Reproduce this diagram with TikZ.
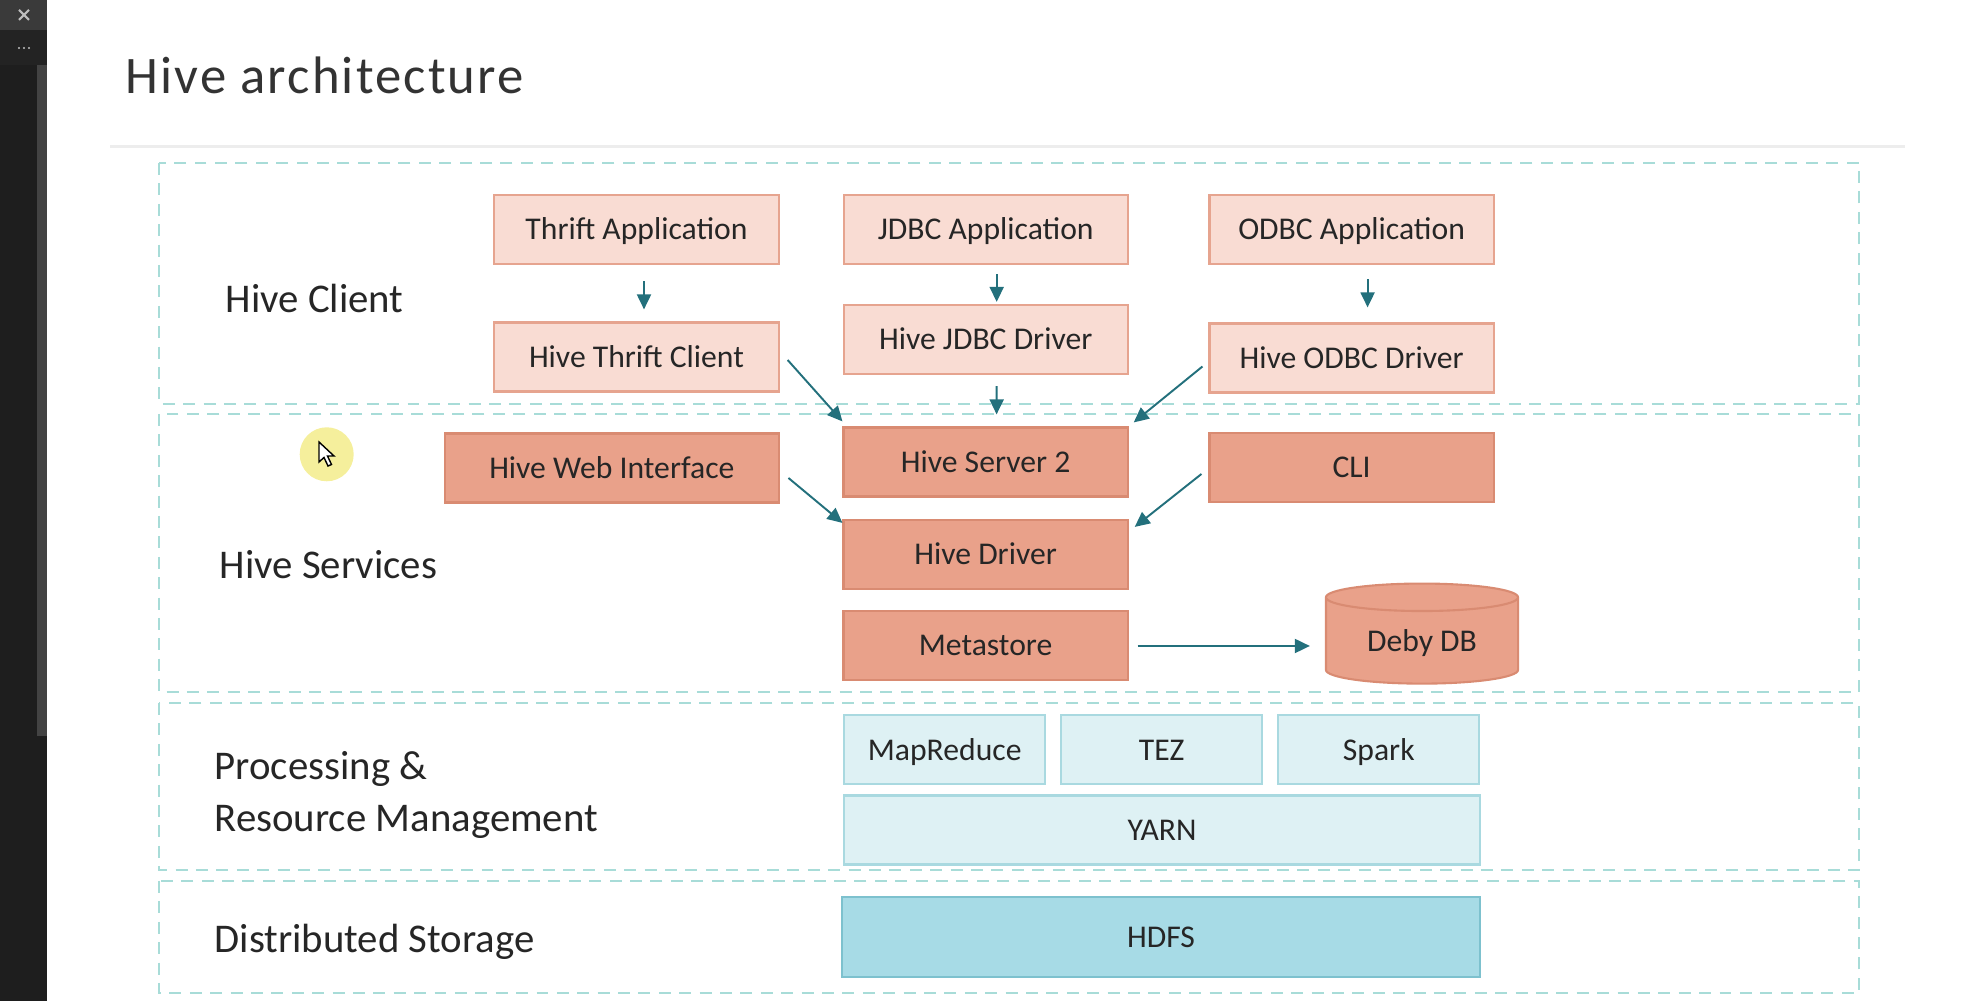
\documentclass[tikz,border=0pt]{standalone}
\usepackage{fontspec}
\setmainfont{Carlito}
\usetikzlibrary{arrows.meta,calc,shapes.geometric}
\definecolor{clientfill}{HTML}{F9DCD3}
\definecolor{clientline}{HTML}{E6A48F}
\definecolor{svcfill}{HTML}{E9A18A}
\definecolor{svcline}{HTML}{D98B72}
\definecolor{procfill}{HTML}{DEF1F4}
\definecolor{procline}{HTML}{A9D9E0}
\definecolor{hdfsfill}{HTML}{A7DBE6}
\definecolor{hdfsline}{HTML}{7DC1CE}
\definecolor{layerline}{HTML}{A8DCD8}
\definecolor{arrowc}{HTML}{23707C}
\definecolor{textc}{HTML}{262626}
\definecolor{sidebar}{HTML}{1E1E1E}
\definecolor{sidetop}{HTML}{3A3A3A}
\definecolor{sidemid}{HTML}{232323}
\definecolor{scrollc}{HTML}{434343}
\definecolor{hilite}{HTML}{F5EF9C}
\begin{document}
\begin{tikzpicture}[x=0.01cm,y=-0.01cm]
\tikzstyle{box}=[rectangle,draw,line width=0.6pt,inner sep=0,text=textc,font=\fontsize{9}{10}\selectfont,text height=5.9pt,text depth=0pt,minimum height=0.69cm]
\tikzstyle{layer}=[draw=layerline,line width=0.7pt,dash pattern=on 3.4pt off 2.4pt]
\tikzset{
	client box/.style={box,draw=clientline,fill=clientfill,minimum width=2.84cm},
	service box/.style={box,draw=svcline,fill=svcfill,minimum width=2.84cm},
	proc box/.style={box,draw=procline,fill=procfill,minimum width=2.01cm},
	layer label/.style={anchor=base west,inner sep=0,text=textc,font=\fontsize{11.6}{14}\selectfont},
	arr/.style={draw=arrowc,line width=0.55pt,-{Triangle[length=0.15cm,width=0.14cm]}}
}
\useasboundingbox (0,0) rectangle (1965,1001);
% screen sidebar
\fill[sidebar] (0,0) rectangle (47,1001);
\fill[sidetop] (0,0) rectangle (47,30);
\fill[sidemid] (0,30) rectangle (47,65);
\fill[scrollc] (37,65) rectangle (47,736);
\draw[black!25,line width=0.6pt] (19,10) -- (29,20) (19,20) -- (29,10);
\foreach \x in {19,24,29}
	\fill[black!25] (\x,48) circle (1.2);
% title
\node[anchor=base west,inner sep=0,font=\fontsize{15}{18}\selectfont\addfontfeatures{LetterSpace=4},text=black!80] (title) at (125,94) {Hive architecture};
\draw[black!7,line width=0.8pt] (110,146.7) -- (1905,146.7);
% layers
\draw[layer] (159,163) rectangle (1859,404);
\draw[layer] (159,414) rectangle (1859,692);
\draw[layer] (159,703) rectangle (1859,870);
\draw[layer] (159,881) rectangle (1859,993);
\node[layer label] (lc) at (225,313) {Hive Client};
\node[layer label] (ls) at (219,579) {Hive Services};
\node[layer label] (lp1) at (214,780) {Processing \&};
\node[layer label] (lp2) at (214,831.5) {Resource Management};
\node[layer label] (ld) at (214,953) {Distributed Storage};
% client
\node[client box] (ta) at (636.5,229.5) {Thrift Application};
\node[client box] (ja) at (985.7,229.5) {JDBC Application};
\node[client box] (oa) at (1351.6,229.5) {ODBC Application};
\node[client box] (tc) at (636.5,357) {Hive Thrift Client};
\node[client box] (jd) at (985.7,339.5) {Hive JDBC Driver};
\node[client box] (od) at (1351.6,358) {Hive ODBC Driver};
% services
\node[service box,minimum width=3.34cm] (web) at (611.8,468) {Hive Web Interface};
\node[service box] (hs) at (985.6,462) {Hive Server 2};
\node[service box] (cli) at (1351.6,467.5) {CLI};
\node[service box] (hd) at (985.6,554.5) {Hive Driver};
\node[service box] (ms) at (985.6,645.3) {Metastore};
\node[cylinder,shape border rotate=90,aspect=0.25,draw=svcline,fill=svcfill,line width=0.6pt,minimum width=1.92cm,minimum height=1.0cm,inner sep=0,text=textc,font=\fontsize{9}{10}\selectfont,text height=5.9pt,text depth=0pt] (db) at (1422,641) {Deby DB};
% processing and storage
\node[proc box] (mr) at (944.7,749.7) {MapReduce};
\node[proc box] (tez) at (1161.7,749.7) {TEZ};
\node[proc box] (spark) at (1378.8,749.7) {Spark};
\node[proc box,minimum width=6.36cm] (yarn) at (1162,830) {YARN};
\node[box,draw=hdfsline,fill=hdfsfill,minimum width=6.38cm,minimum height=0.8cm] (hdfs) at (1161,937.3) {HDFS};
% arrows
\draw[arr] ($(ta.south)+(7.5,16)$) -- ($(tc.north)+(7.5,-12)$);
\draw[arr] ($(ja.south)+(11,9)$) -- ($(jd.north)+(11,-2)$);
\draw[arr] ($(oa.south)+(16,14)$) -- ($(od.north)+(16,-15)$);
\draw[arr] ($(jd.south)+(11,11)$) -- ($(hs.north)+(11,-12)$);
\draw[arr] ($(tc.east)+(8,3)$) -- ($(hs.north west)+(0,-5)$);
\draw[arr] ($(od.west)+(-6,8.5)$) -- ($(hs.north east)+(5,-4)$);
\draw[arr] ($(web.east)+(8.5,10)$) -- ($(hd.north west)+(0,4)$);
\draw[arr] ($(cli.west)+(-7,6.5)$) -- ($(hd.north east)+(6,8)$);
\draw[arr] ($(ms.east)+(9,0.7)$) -- ($(db.west |- ms.east)+(-15,0.7)$);
% pointer
\fill[hilite] (326.7,454.3) circle (27);
\filldraw[fill=white,draw=black,line width=0.4pt] (319,442) -- (319,462) -- (324,457.5) -- (328,466) -- (331.5,464.5) -- (327.5,456) -- (334,456) -- cycle;
\end{tikzpicture}
\end{document}
